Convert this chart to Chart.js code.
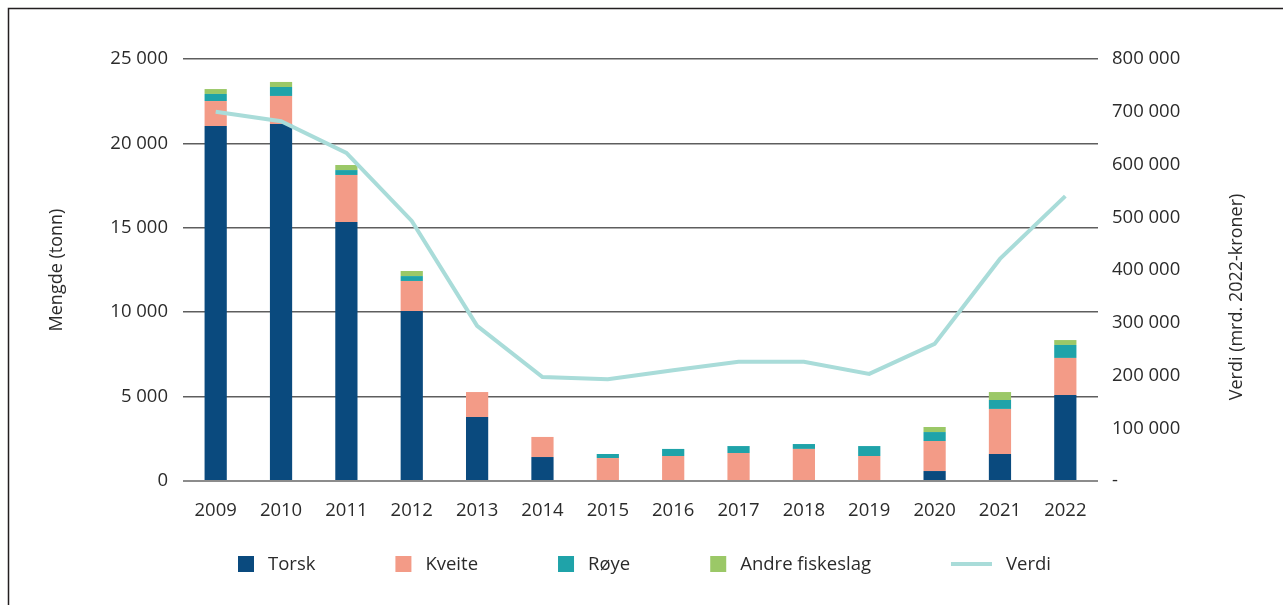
<!DOCTYPE html>
<html>
<head>
<meta charset="utf-8">
<script src="https://cdn.jsdelivr.net/npm/chart.js@4.4.1/dist/chart.umd.min.js"></script>
<style>
  html, body { margin: 0; padding: 0; background: #fff; }
  #wrap { width: 1283px; height: 605px; position: relative; }
</style>
</head>
<body>
<div id="wrap"><canvas id="myChart" width="1283" height="605"></canvas></div>
<script>
    /**
     * Data
     */

    var years = ['2009', '2010', '2011', '2012', '2013', '2014', '2015', '2016', '2017', '2018', '2019', '2020', '2021', '2022'];
    var torsk = [21030, 21150, 15340, 10070, 3790, 1420, 0, 0, 0, 0, 0, 590, 1600, 5090];
    var kveite = [1480, 1660, 2790, 1780, 1480, 1190, 1360, 1480, 1660, 1900, 1480, 1780, 2670, 2200];
    var roye = [420, 530, 290, 290, 0, 0, 240, 420, 410, 290, 590, 530, 530, 770];
    var andre = [290, 300, 300, 300, 0, 0, 0, 0, 0, 0, 0, 300, 470, 290];
    var verdi = [700000, 682000, 622000, 493000, 294000, 197000, 193000, 210000, 226000, 226000, 203000, 260000, 421000, 540000];

    var leftTicks = [0, 5000, 10000, 15000, 20000, 25000];
    var rightTicks = [0, 100000, 200000, 300000, 400000, 500000, 600000, 700000, 800000];

    var FONT = '"Open Sans", "Noto Sans", sans-serif';
    var TEXT = '#2b2b2b';
    var SIZE = 18.5;

    function spaced(v) {
        return String(v).replace(/\B(?=(\d{3})+(?!\d))/g, ' ');
    }

    /**
     * Plugins: frame, right axis title, legend
     */

    var framePlugin = {
        id: 'frame',
        beforeDraw: function (chart) {
            var c = chart.ctx;
            c.save();
            c.fillStyle = '#fff';
            c.fillRect(0, 0, chart.width, chart.height);
            c.strokeStyle = '#231f20';
            c.lineWidth = 1.5;
            c.strokeRect(8.5, 8.5, chart.width + 20, chart.height + 20);
            c.restore();
        },
        afterDraw: function (chart) {
            var c = chart.ctx;
            c.save();
            c.font = '18px ' + FONT;
            c.fillStyle = TEXT;
            c.textAlign = 'center';
            c.textBaseline = 'middle';
            c.translate(1237, 297);
            c.rotate(-Math.PI / 2);
            c.fillText('Verdi (mrd. 2022-kroner)', 0, 0);
            c.restore();
        }
    };

    var legendPlugin = {
        id: 'customLegend',
        afterDraw: function (chart) {
            var c = chart.ctx;
            var x = 238, y = 564;
            c.save();
            c.font = SIZE + 'px ' + FONT;
            c.textBaseline = 'middle';
            c.textAlign = 'left';
            chart.data.datasets.slice().sort(function (a, b) { return a.legendIndex - b.legendIndex; }).forEach(function (ds) {
                if (ds.type === 'line') {
                    c.strokeStyle = ds.borderColor;
                    c.lineWidth = 4;
                    c.beginPath();
                    c.moveTo(x, y);
                    c.lineTo(x + 41, y);
                    c.stroke();
                    x += 41 + 14;
                } else {
                    c.fillStyle = ds.backgroundColor;
                    c.fillRect(x, y - 8, 16, 16);
                    x += 16 + 14;
                }
                c.fillStyle = TEXT;
                c.fillText(ds.label, x, y + 1);
                x += c.measureText(ds.label).width + 80;
            });
            c.restore();
        }
    };

    /**
     * Chart.js
     */

    var ctx = document.getElementById('myChart').getContext('2d');
    var chart = new Chart(ctx, {
        type: 'bar',
        data: {
            labels: years,
            datasets: [
                { label: 'Torsk', data: torsk, backgroundColor: '#0a4a7e', stack: 's', yAxisID: 'y', order: 1, legendIndex: 0 },
                { label: 'Kveite', data: kveite, backgroundColor: '#f39b87', stack: 's', yAxisID: 'y', order: 1, legendIndex: 1 },
                { label: 'Røye', data: roye, backgroundColor: '#1fa3a9', stack: 's', yAxisID: 'y', order: 1, legendIndex: 2 },
                { label: 'Andre fiskeslag', data: andre, backgroundColor: '#9bc867', stack: 's', yAxisID: 'y', order: 1, legendIndex: 3 },
                {
                    type: 'line', label: 'Verdi', data: verdi, yAxisID: 'y2',
                    borderColor: '#a9dcd9', backgroundColor: '#a9dcd9', borderWidth: 4,
                    pointRadius: 0, tension: 0, fill: false, order: 0, legendIndex: 4
                }
            ]
        },
        options: {
            responsive: false,
            animation: false,
            devicePixelRatio: 1,
            layout: { padding: { top: 59, left: 0, right: 0, bottom: 0 } },
            datasets: {
                bar: { categoryPercentage: 1, barPercentage: 0.34 }
            },
            plugins: {
                legend: { display: false },
                tooltip: { enabled: false }
            },
            scales: {
                x: {
                    stacked: true,
                    grid: { display: false },
                    border: { display: false },
                    ticks: { color: TEXT, font: { family: FONT, size: SIZE }, padding: 11, maxRotation: 0 },
                    afterFit: function (s) { s.height = 124; }
                },
                y: {
                    position: 'left',
                    stacked: true,
                    min: 0,
                    max: 25000,
                    afterBuildTicks: function (s) { s.ticks = leftTicks.map(function (v) { return { value: v }; }); },
                    grid: {
                        drawTicks: false,
                        color: function (c) { return c.tick && c.tick.value === 0 ? '#8c8c8c' : '#5e5e5e'; },
                        lineWidth: function (c) { return c.tick && c.tick.value === 0 ? 2 : 1.5; }
                    },
                    border: { display: false },
                    ticks: {
                        color: TEXT, font: { family: FONT, size: SIZE }, padding: 15,
                        callback: function (v) { return spaced(v); }
                    },
                    title: {
                        display: true, text: 'Mengde (tonn)', color: TEXT,
                        font: { family: FONT, size: 18 }, padding: { top: 46, bottom: 0 }
                    },
                    afterFit: function (s) { s.width = 183; }
                },
                y2: {
                    position: 'right',
                    min: 0,
                    max: 800000,
                    afterBuildTicks: function (s) { s.ticks = rightTicks.map(function (v) { return { value: v }; }); },
                    grid: { display: false, drawTicks: false },
                    border: { display: false },
                    ticks: {
                        color: TEXT, font: { family: FONT, size: SIZE }, padding: 14,
                        callback: function (v) { return v === 0 ? '-' : spaced(v); }
                    },
                    afterFit: function (s) { s.width = 185; }
                }
            }
        },
        plugins: [framePlugin, legendPlugin]
    });
</script>
</body>
</html>
